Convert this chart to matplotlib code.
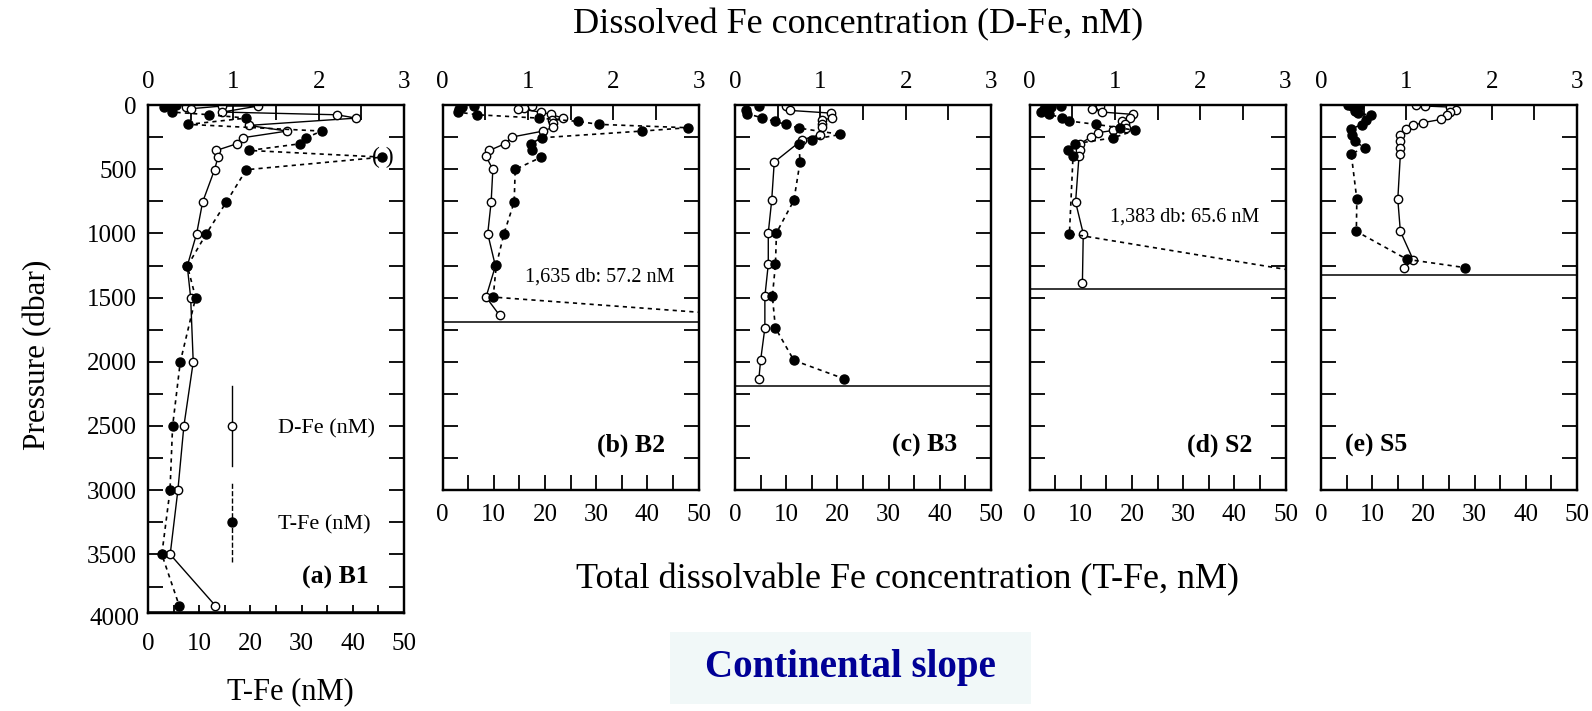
import matplotlib
matplotlib.use("Agg")
import matplotlib.pyplot as plt
from matplotlib.lines import Line2D
from matplotlib.legend_handler import HandlerBase
from matplotlib.patches import Rectangle
from matplotlib.ticker import MultipleLocator
import matplotlib.transforms as mtransforms

plt.rcParams["font.family"] = ["Liberation Serif", "DejaVu Serif"]

# --- data (pressure in dbar, Fe in nM) ---
stations = ["(a) B1", "(b) B2", "(c) B3", "(d) S2", "(e) S5"]
bottom_depth = [3950, 1691, 2192, 1431, 1322]
y_max = [3960, 3000, 3000, 3000, 3000]

p_dfe_a = [16, 29, 8, 8, 55, 76, 102, 159, 203, 255, 302, 354, 406, 504, 756,
           1002, 1254, 1501, 2002, 2503, 3001, 3500, 3900]
dfe_a = [0.44, 0.50, 0.87, 1.29, 0.87, 2.21, 2.44, 1.18, 1.63, 1.11, 1.04, 0.80,
         0.82, 0.78, 0.64, 0.57, 0.46, 0.50, 0.53, 0.42, 0.35, 0.26, 0.79]
p_tfe_a = [3, 5, 16, 55, 76, 102, 151, 203, 255, 302, 354, 406, 504, 756, 1002,
           1254, 1501, 2002, 2503, 3001, 3500, 3900]
tfe_a = [5.4, 4.8, 3.2, 4.7, 12.0, 19.2, 7.9, 33.9, 30.9, 29.7, 19.8, 45.8, 19.2,
         15.3, 11.4, 7.7, 9.3, 6.3, 4.8, 4.3, 2.7, 6.1]

p_dfe_b = [8, 21, 29, 55, 73, 102, 120, 141, 172, 203, 250, 302, 354, 400, 502,
           756, 1002, 1254, 1496, 1639]
dfe_b = [1.05, 0.96, 0.88, 1.15, 1.27, 1.41, 1.28, 1.29, 1.30, 1.18, 0.81, 0.73,
         0.55, 0.51, 0.59, 0.57, 0.53, 0.62, 0.51, 0.67]
p_tfe_b = [8, 16, 29, 55, 76, 102, 128, 151, 177, 203, 255, 302, 354, 406, 502,
           756, 1002, 1249, 1496, 1635]
tfe_b = [6.2, 3.8, 3.2, 3.0, 6.8, 18.8, 26.5, 30.6, 47.9, 39.0, 19.4, 17.2, 17.4,
         19.3, 14.2, 14.0, 12.0, 10.5, 9.9, 57.2]

p_dfe_c = [8, 42, 63, 99, 120, 146, 172, 231, 270, 445, 743, 995, 1241, 1491,
           1737, 1989, 2132]
dfe_c = [0.60, 0.64, 1.12, 1.14, 1.02, 1.02, 1.02, 1.00, 0.79, 0.46, 0.43, 0.39,
         0.39, 0.35, 0.35, 0.30, 0.28]
p_tfe_c = [8, 37, 68, 99, 128, 151, 180, 229, 270, 302, 445, 743, 995, 1241,
           1491, 1737, 1989, 2132]
tfe_c = [4.7, 2.1, 2.4, 5.2, 7.8, 9.9, 12.5, 20.6, 15.0, 12.5, 12.7, 11.5, 8.1,
         7.9, 7.3, 7.9, 11.5, 21.3]

p_dfe_d = [8, 29, 55, 73, 99, 125, 146, 177, 198, 216, 250, 302, 354, 400, 756,
           1002, 1384]
dfe_d = [0.83, 0.73, 0.85, 1.21, 1.18, 1.08, 1.12, 1.13, 0.98, 0.80, 0.72, 0.59,
         0.59, 0.58, 0.54, 0.63, 0.62]
p_tfe_d = [8, 16, 29, 55, 73, 99, 125, 151, 177, 198, 255, 302, 354, 400, 1002,
           1383]
tfe_d = [6.1, 4.2, 2.9, 2.2, 3.9, 6.3, 7.8, 13.0, 17.6, 20.6, 16.4, 8.9, 7.6,
         8.5, 7.8, 65.6]

p_dfe_e = [3, 8, 16, 37, 55, 81, 112, 138, 159, 190, 231, 283, 333, 385, 735,
           984, 1205, 1270]
dfe_e = [1.11, 1.22, 1.51, 1.58, 1.51, 1.48, 1.41, 1.19, 1.08, 1.00, 0.93, 0.92,
         0.92, 0.93, 0.90, 0.93, 1.08, 0.97]
p_tfe_e = [3, 8, 11, 47, 63, 81, 114, 153, 185, 231, 283, 335, 379, 735, 984,
           1202, 1267]
tfe_e = [5.3, 6.0, 7.5, 6.7, 7.3, 9.8, 8.7, 8.0, 5.9, 6.1, 6.7, 8.5, 5.9, 7.0,
         6.9, 16.8, 28.2]

p_dfe = [p_dfe_a, p_dfe_b, p_dfe_c, p_dfe_d, p_dfe_e]
dfe = [dfe_a, dfe_b, dfe_c, dfe_d, dfe_e]
p_tfe = [p_tfe_a, p_tfe_b, p_tfe_c, p_tfe_d, p_tfe_e]
tfe = [tfe_a, tfe_b, tfe_c, tfe_d, tfe_e]

DASH = (0, (2.5, 2.5))


class VerticalKey(HandlerBase):
    # legend key drawn as a vertical line through the marker
    def create_artists(self, legend, orig, xdescent, ydescent, width, height,
                       fontsize, trans):
        x = width / 2 - xdescent
        yc = 0.33 * fontsize
        half = 1.8 * fontsize
        line = Line2D([x, x], [yc - half, yc + half], color="black",
                      lw=orig.get_linewidth(), linestyle=orig.get_linestyle(),
                      transform=trans)
        mark = Line2D([x], [yc], marker="o", linestyle="none",
                      ms=orig.get_markersize(), mfc=orig.get_markerfacecolor(),
                      mec="black", mew=1, transform=trans)
        return [line, mark]


W, H = 1592, 711
left_px = [148, 442.5, 735, 1029.5, 1321]
top_px = 105
px_per_250 = 32.1

fig = plt.figure(figsize=(W / 100, H / 100), dpi=100)

for i in range(5):
    bot_px = top_px + y_max[i] / 250 * px_per_250
    rect = [left_px[i] / W, 1 - bot_px / H, 256 / W, (bot_px - top_px) / H]
    ax = fig.add_axes(rect)
    axT = ax.twiny()

    ax.set_xlim(0, 3)
    axT.set_xlim(0, 50)
    ax.set_ylim(y_max[i], 0)

    ax.xaxis.tick_top()
    axT.xaxis.tick_bottom()
    ax.xaxis.set_major_locator(MultipleLocator(1))
    ax.xaxis.set_minor_locator(MultipleLocator(0.5))
    axT.xaxis.set_major_locator(MultipleLocator(10))
    axT.xaxis.set_minor_locator(MultipleLocator(5))
    ax.yaxis.set_major_locator(MultipleLocator(500))
    ax.yaxis.set_minor_locator(MultipleLocator(250))

    ax.tick_params(axis="both", which="both", direction="in", length=11,
                   width=1.3, labelsize=18)
    ax.tick_params(axis="y", which="both", left=True, right=True,
                   labelleft=(i == 0), labelright=False, pad=8)
    ax.tick_params(axis="x", which="both", top=True, bottom=False,
                   labeltop=True, labelbottom=False, pad=9)
    axT.tick_params(axis="x", which="both", direction="in",
                    length=6 if i == 0 else 11, width=1.3, labelsize=18,
                    top=False, bottom=True, labeltop=False, labelbottom=True,
                    pad=14 if i == 0 else 10)
    for a in (ax, axT):
        for s in a.spines.values():
            s.set_linewidth(1.6)

    ax.plot(dfe[i], p_dfe[i], "-o", color="black", lw=1.0, ms=6,
            mfc="white", mec="black", mew=1.0)
    axT.plot(tfe[i], p_tfe[i], linestyle=DASH, marker="o", color="black",
             lw=1.2, ms=6.5)
    ax.axhline(bottom_depth[i], color="black", lw=1.1)

    if i == 0:
        # 4000 label sits just below the cut-off axis
        tr = mtransforms.blended_transform_factory(ax.transAxes, ax.transData)
        ax.text(-0.032, 4000, "4000", transform=tr, ha="right", va="center",
                fontsize=18)
        # bracketed (suspect) value
        k = tfe_a.index(max(tfe_a))
        axT.annotate("( )", (tfe_a[k], p_tfe_a[k]), ha="center",
                     va="center", fontsize=17)
        h_d = Line2D([], [], color="black", lw=1.0, marker="o", ms=6,
                     mfc="white")
        h_t = Line2D([], [], color="black", lw=1.0, linestyle=DASH,
                     marker="o", ms=6.5, mfc="black")
        axT.legend([h_d, h_t], ["D-Fe (nM)", "T-Fe (nM)"],
                   handler_map={h_d: VerticalKey(), h_t: VerticalKey()},
                   loc="center left", bbox_to_anchor=(0.275, 0.27),
                   frameon=False, fontsize=16, handlelength=1.2,
                   handletextpad=1.5, labelspacing=3.4, borderpad=0,
                   borderaxespad=0)
        axT.text(0.862, 0.07, stations[i], transform=axT.transAxes,
                 ha="right", va="center", fontsize=18.5, fontweight="bold")
    elif i == 4:
        axT.text(0.094, 0.117, stations[i], transform=axT.transAxes,
                 ha="left", va="center", fontsize=18.5, fontweight="bold")
    else:
        axT.text(0.87, 0.117, stations[i], transform=axT.transAxes,
                 ha="right", va="center", fontsize=18.5, fontweight="bold")

# notes for off-scale T-Fe values
axes_list = fig.axes
note_pos = {1: (0.322, 0.553), 3: (0.314, 0.709)}
for i, (xa, ya) in note_pos.items():
    p_last, t_last = p_tfe[i][-1], tfe[i][-1]
    axT = axes_list[2 * i + 1]
    axT.text(xa, ya, f"{p_last:,} db: {t_last} nM", transform=axT.transAxes,
             ha="left", va="center", fontsize=14.5)

fig.text(858 / W, 1 - 25 / H, "Dissolved Fe concentration (D-Fe, nM)",
         ha="center", va="center", fontsize=26)
fig.text(907.5 / W, 1 - 580 / H,
         "Total dissolvable Fe concentration (T-Fe, nM)",
         ha="center", va="center", fontsize=26)
fig.text(38 / W, 1 - 355 / H, "Pressure (dbar)", rotation=90,
         ha="center", va="center", fontsize=22.5)
fig.text(290 / W, 1 - 692 / H, "T-Fe (nM)", ha="center", va="center",
         fontsize=22)

fig.patches.append(Rectangle((670 / W, 1 - 704 / H), 361 / W, 72.3 / H,
                             transform=fig.transFigure, facecolor="#f1f8f8",
                             edgecolor="none", zorder=0))
fig.text(850.5 / W, 1 - 668 / H, "Continental slope", ha="center",
         va="center", fontsize=28, fontweight="bold", color="#000096")

fig.savefig("out.png", dpi=100)
